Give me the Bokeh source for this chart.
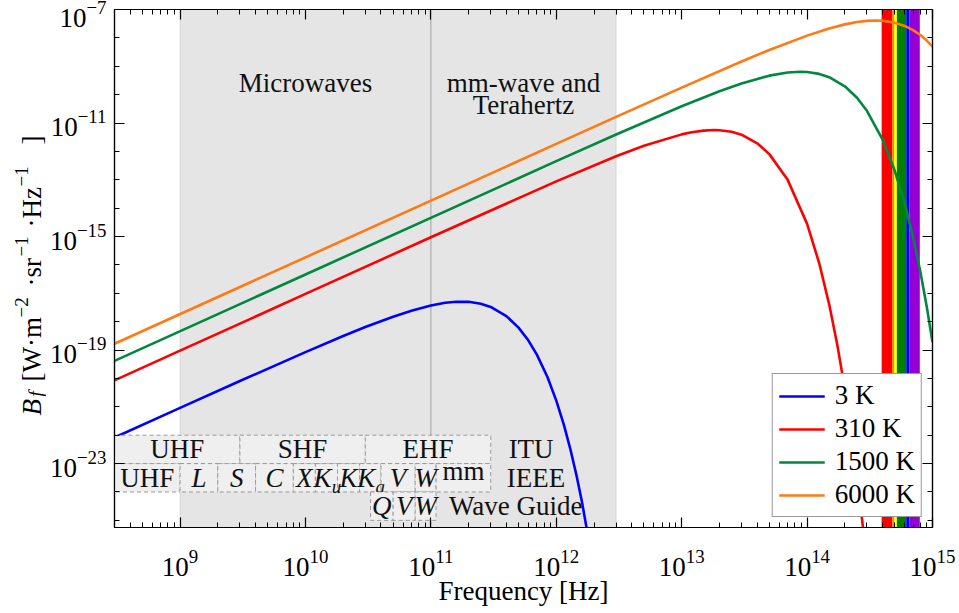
from math import pi, sqrt
from bokeh.plotting import figure
from bokeh.layouts import row
from bokeh.models import (FixedTicker, LogAxis, BoxAnnotation, Span,
                          Legend, LegendItem, Range1d, ColumnDataSource,
                          CustomJSTickFormatter)
from bokeh.core.properties import value
from bokeh.embed import file_html
from bokeh.resources import INLINE

FONT = "Liberation Serif"
FS = "27px"

# ---------------- data ----------------
freq_3k = [3e8, 1e9, 3e9, 1e10, 2e10, 3e10, 5e10, 7e10, 1e11, 1.3e11, 1.6e11, 2e11, 2.5e11,
           3e11, 4e11, 5e11, 6e11, 7e11, 8.5e11, 1e12, 1.15e12, 1.3e12, 1.45e12, 1.6e12, 1.9e12]
bf_3k = [8.28e-23, 9.14e-22, 8.10e-21, 8.50e-20, 3.13e-19, 6.46e-19, 1.50e-18, 2.45e-18,
         3.73e-18, 4.63e-18, 5.06e-18, 5.01e-18, 4.30e-18, 3.30e-18, 1.57e-18, 6.19e-19,
         2.16e-19, 6.93e-20, 1.12e-20, 1.66e-21, 2.30e-22, 3.01e-23, 3.79e-24, 4.62e-25,
         6.38e-27]

freq_310k = [3e8, 1e9, 1e10, 1e11, 1e12, 3e12, 5e12, 1e13, 1.2e13, 1.5e13, 1.82e13, 2e13,
             2.5e13, 3e13, 4e13, 5e13, 7e13, 1e14, 1.25e14, 1.5e14, 1.75e14, 2e14, 2.25e14,
             2.5e14, 2.75e14, 3e14]
bf_310k = [8.57e-21, 9.53e-20, 9.52e-18, 9.45e-16, 8.81e-14, 6.73e-13, 1.58e-12, 3.98e-12,
           4.71e-12, 5.41e-12, 5.65e-12, 5.59e-12, 4.91e-12, 3.87e-12, 1.93e-12, 8.02e-13,
           9.94e-14, 2.79e-15, 1.14e-16, 4.09e-18, 1.35e-19, 4.21e-21, 1.25e-22, 3.58e-24,
           9.93e-26, 2.69e-27]

freq_1500k = [3e8, 1e10, 1e12, 3e12, 1e13, 2e13, 3e13, 5e13, 7e13, 8.8e13, 1e14, 1.25e14,
              1.5e14, 2e14, 2.5e14, 3e14, 4e14, 5e14, 6e14, 7e14, 8e14, 9e14, 1e15]
bf_1500k = [4.15e-20, 4.61e-17, 4.53e-13, 3.95e-12, 3.91e-11, 1.32e-10, 2.47e-10, 4.67e-10,
            6.03e-10, 6.40e-10, 6.27e-10, 5.38e-10, 4.13e-10, 1.97e-10, 7.74e-11, 2.70e-11,
            2.61e-12, 2.08e-13, 1.47e-14, 9.49e-16, 5.78e-17, 3.35e-18, 1.88e-19]

freq_6000k = [3e8, 1e12, 3e12, 1e13, 3e13, 5e13, 1e14, 1.5e14, 2e14, 2.5e14, 3e14, 3.5e14,
              4e14, 5e14, 6e14, 7e14, 8e14, 9e14, 1e15]
bf_6000k = [1.66e-19, 1.84e-12, 1.64e-11, 1.77e-10, 1.47e-9, 3.75e-9, 1.20e-8, 2.15e-8,
            2.99e-8, 3.61e-8, 3.97e-8, 4.09e-8, 4.01e-8, 3.44e-8, 2.64e-8, 1.88e-8,
            1.26e-8, 8.03e-9, 4.95e-9]

series_labels = ["3 K", "310 K", "1500 K", "6000 K"]
series_colors = ["#0000ff", "#ff0000", "#00883e", "#ff7a12"]

# visible spectrum bands [Hz]
vis_lo = [3.93e14, 4.78e14, 4.93e14, 5.20e14, 6.17e14, 6.56e14]
vis_hi = [4.78e14, 4.93e14, 5.20e14, 6.17e14, 6.56e14, 7.92e14]
vis_colors = ["#ff0000", "#ff8000", "#ffff00", "#008000", "#0000ff", "#9400d3"]

# shaded regions [Hz]
microwave_lo, microwave_hi = 1e9, 1e11
thz_lo, thz_hi = 1e11, 3e12

# band designations [Hz]
itu_edges = [3e8, 3e9, 3e10, 3e11]
itu_names = ["UHF", "SHF", "EHF"]
ieee_edges = [3e8, 1e9, 2e9, 4e9, 8e9, 12e9, 18e9, 27e9, 40e9, 75e9, 110e9, 300e9]
ieee_names = ["UHF", "L", "S", "C", "X", "K", "K", "K", "V", "W", "mm"]
ieee_subs = ["", "", "", "", "", "u", "", "a", "", "", ""]
ieee_italic = [False, True, True, True, True, True, True, True, True, True, False]
wg_edges = [33e9, 50e9, 75e9, 110e9]
wg_names = ["Q", "V", "W"]
# row extents (decades) for ITU / IEEE / wave guide rows
row_itu = (1e-23, 1e-22)
row_ieee = (1e-24, 1e-23)
row_wg = (1e-25, 1e-24)

x_major = [1e9, 1e10, 1e11, 1e12, 1e13, 1e14, 1e15]
y_major = [1e-23, 1e-19, 1e-15, 1e-11, 1e-7]

LABEL_W = 46
H = 613
FRAME_TOP = 9
FRAME_BOTTOM = 527

# ---------------- main figure ----------------
p = figure(width=959 - LABEL_W, height=H, x_axis_type="log", y_axis_type="log",
           x_range=Range1d(3e8, 1e15), y_range=Range1d(5.6e-26, 1e-7),
           output_backend="svg", toolbar_location=None,
           min_border_left=113 - LABEL_W, min_border_right=27, min_border_top=FRAME_TOP,
           min_border_bottom=H - FRAME_BOTTOM)
p.xgrid.visible = False
p.ygrid.visible = False
p.outline_line_color = "black"
p.outline_line_width = 1.2
p.background_fill_color = "white"
p.border_fill_color = "white"

x_minor = [m * 10 ** e for e in range(8, 15) for m in range(1, 10)
           if 3e8 <= m * 10 ** e <= 1e15]
y_minor = [10.0 ** e for e in range(-26, -6)]


def style_axis(ax, labels=True):
    ax.major_tick_in = 10
    ax.major_tick_out = 0
    ax.minor_tick_in = 5
    ax.minor_tick_out = 0
    ax.axis_line_color = "black"
    ax.axis_line_width = 1.2
    ax.major_tick_line_color = "black"
    ax.minor_tick_line_color = "black"
    ax.major_tick_line_width = 1.2
    ax.minor_tick_line_width = 1
    ax.major_label_text_font = FONT
    ax.major_label_text_color = "black"
    if labels:
        ax.major_label_text_font_size = FS
    else:
        ax.major_label_text_font_size = "2px"
        ax.major_label_text_alpha = 0
        ax.major_label_standoff = 0


p.xaxis.ticker = FixedTicker(ticks=x_major, minor_ticks=x_minor)
p.yaxis.ticker = FixedTicker(ticks=y_major, minor_ticks=y_minor)
style_axis(p.xaxis[0])
style_axis(p.yaxis[0])
p.xaxis.major_label_standoff = 22
p.yaxis.major_label_standoff = 8
p.xaxis.axis_label = "Frequency [Hz]"
p.xaxis.axis_label_text_font = FONT
p.xaxis.axis_label_text_font_size = FS
p.xaxis.axis_label_text_font_style = "normal"
p.xaxis.axis_label_text_color = "black"
p.xaxis.axis_label_standoff = -3

blank = CustomJSTickFormatter(code="return ''")
top_ax = LogAxis(ticker=FixedTicker(ticks=x_major, minor_ticks=x_minor), formatter=blank)
style_axis(top_ax, labels=False)
p.add_layout(top_ax, "above")
right_ax = LogAxis(ticker=FixedTicker(ticks=y_major, minor_ticks=y_minor), formatter=blank)
style_axis(right_ax, labels=False)
p.add_layout(right_ax, "right")

# shaded microwave / THz region
p.add_layout(BoxAnnotation(left=microwave_lo, right=thz_hi, fill_color="#e5e5e5",
                           fill_alpha=1, line_color="#a0a0a0", line_width=1,
                           level="underlay"))
p.add_layout(Span(location=thz_lo, dimension="height", line_color="#a0a0a0",
                  line_width=1, level="underlay"))

# visible spectrum
for lo, hi, c in zip(vis_lo, vis_hi, vis_colors):
    p.add_layout(BoxAnnotation(left=lo, right=hi, fill_color=c, fill_alpha=1,
                               line_alpha=0, level="underlay"))

# region titles
tf = value(FONT)
p.text(x=[sqrt(microwave_lo * microwave_hi)], y=[2.5e-10], text=["Microwaves"],
       text_font=tf, text_font_size=FS, text_align="center",
       text_baseline="alphabetic", text_color="#111111")
p.text(x=[sqrt(thz_lo * thz_hi)], y=[2.5e-10], text=["mm-wave and"],
       text_font=tf, text_font_size=FS, text_align="center",
       text_baseline="alphabetic", text_color="#111111")
p.text(x=[sqrt(thz_lo * thz_hi)], y=[4.2e-11], text=["Terahertz"],
       text_font=tf, text_font_size=FS, text_align="center",
       text_baseline="alphabetic", text_color="#111111")

# curves
curves = [(freq_3k, bf_3k), (freq_310k, bf_310k), (freq_1500k, bf_1500k),
          (freq_6000k, bf_6000k)]
renderers = []
for (fx, by), c in zip(curves, series_colors):
    r = p.line(fx, by, line_color=c, line_width=2.6)
    renderers.append(r)


# band boxes
def draw_row(edges, names, row_ext, italic, subs=None):
    lefts = edges[:-1]
    rights = edges[1:]
    src = ColumnDataSource(dict(left=lefts, right=rights,
                                bottom=[row_ext[0]] * len(lefts),
                                top=[row_ext[1]] * len(lefts)))
    p.quad(left="left", right="right", bottom="bottom", top="top", source=src,
           fill_color="#efefef", fill_alpha=1, line_color="#9a9a9a",
           line_dash="4 3", line_width=1)
    yc = sqrt(row_ext[0] * row_ext[1])
    for i, name in enumerate(names):
        xc = sqrt(lefts[i] * rights[i])
        xo = 0
        yo = 0
        if subs and subs[i]:
            xo = -4
        if name == "mm":
            yo = -7
        p.text(x=[xc], y=[yc], text=[name], text_font=tf, text_font_size=FS,
               text_font_style="italic" if italic[i] else "normal",
               text_align="center", text_baseline="middle", text_color="#111111",
               x_offset=xo, y_offset=yo)
        if subs and subs[i]:
            p.text(x=[xc], y=[yc], text=[subs[i]], text_font=tf, text_font_size="19px",
                   text_font_style="italic", text_align="center",
                   text_baseline="middle", text_color="#111111",
                   x_offset=10, y_offset=9)


draw_row(itu_edges, itu_names, row_itu, [False] * 3)
draw_row(ieee_edges, ieee_names, row_ieee, ieee_italic, ieee_subs)
draw_row(wg_edges, wg_names, row_wg, [True] * 3)

for txt, xx, row_ext in [("ITU", 6.3e11, row_itu), ("IEEE", 6.9e11, row_ieee),
                         ("Wave Guide", 4.75e11, row_wg)]:
    p.text(x=[xx], y=[sqrt(row_ext[0] * row_ext[1])], text=[txt], text_font=tf,
           text_font_size=FS, text_align="center", text_baseline="middle",
           text_color="#111111")

# legend
legend = Legend(items=[LegendItem(label=l, renderers=[r])
                       for l, r in zip(series_labels, renderers)],
                location="bottom_right")
legend.label_text_font = FONT
legend.label_text_font_size = FS
legend.label_text_color = "black"
legend.label_text_line_height = 1.0
legend.glyph_width = 46
legend.glyph_height = 24
legend.label_height = 24
legend.spacing = 2
legend.padding = 6
legend.margin = 10
legend.label_standoff = 10
legend.border_line_color = "#333333"
legend.border_line_width = 1.2
legend.background_fill_color = "white"
legend.background_fill_alpha = 1
p.add_layout(legend)

# ---------------- y-axis label strip ----------------
# The strip's frame is aligned with the main frame (FRAME_TOP..FRAME_BOTTOM);
# one data unit = one pixel, measured upward from the frame bottom.
lab = figure(width=LABEL_W, height=H, x_range=Range1d(0, LABEL_W),
             y_range=Range1d(0, FRAME_BOTTOM - FRAME_TOP),
             output_backend="svg", toolbar_location=None, min_border=0)
lab.axis.visible = False
lab.grid.visible = False
lab.outline_line_color = None
lab.border_fill_color = "white"
lab.background_fill_color = "white"


def up(sy):
    return FRAME_BOTTOM - sy


# (text, x baseline, screen y where the text starts, size, italic)
ylabel_parts = [
    ("B", 31, 415, FS, True),
    ("f", 35, 396, "19px", True),
    ("[W\u00b7m", 31, 381, FS, False),
    ("\u22122", 21, 317, "19px", False),
    ("\u00b7sr", 31, 286, FS, False),
    ("\u22121", 21, 256, "19px", False),
    ("\u00b7Hz", 31, 227, FS, False),
    ("\u22121", 21, 186, "19px", False),
    ("]", 31, 144, FS, False),
]
for t, bx, sy, sz, it in ylabel_parts:
    lab.text(x=[bx], y=[up(sy)], text=[t], angle=pi / 2, text_font=tf, text_font_size=sz,
             text_font_style="italic" if it else "normal", text_align="left",
             text_baseline="alphabetic", text_color="black")

layout = row(lab, p)
open("out.html", "w").write(file_html(layout, INLINE))
